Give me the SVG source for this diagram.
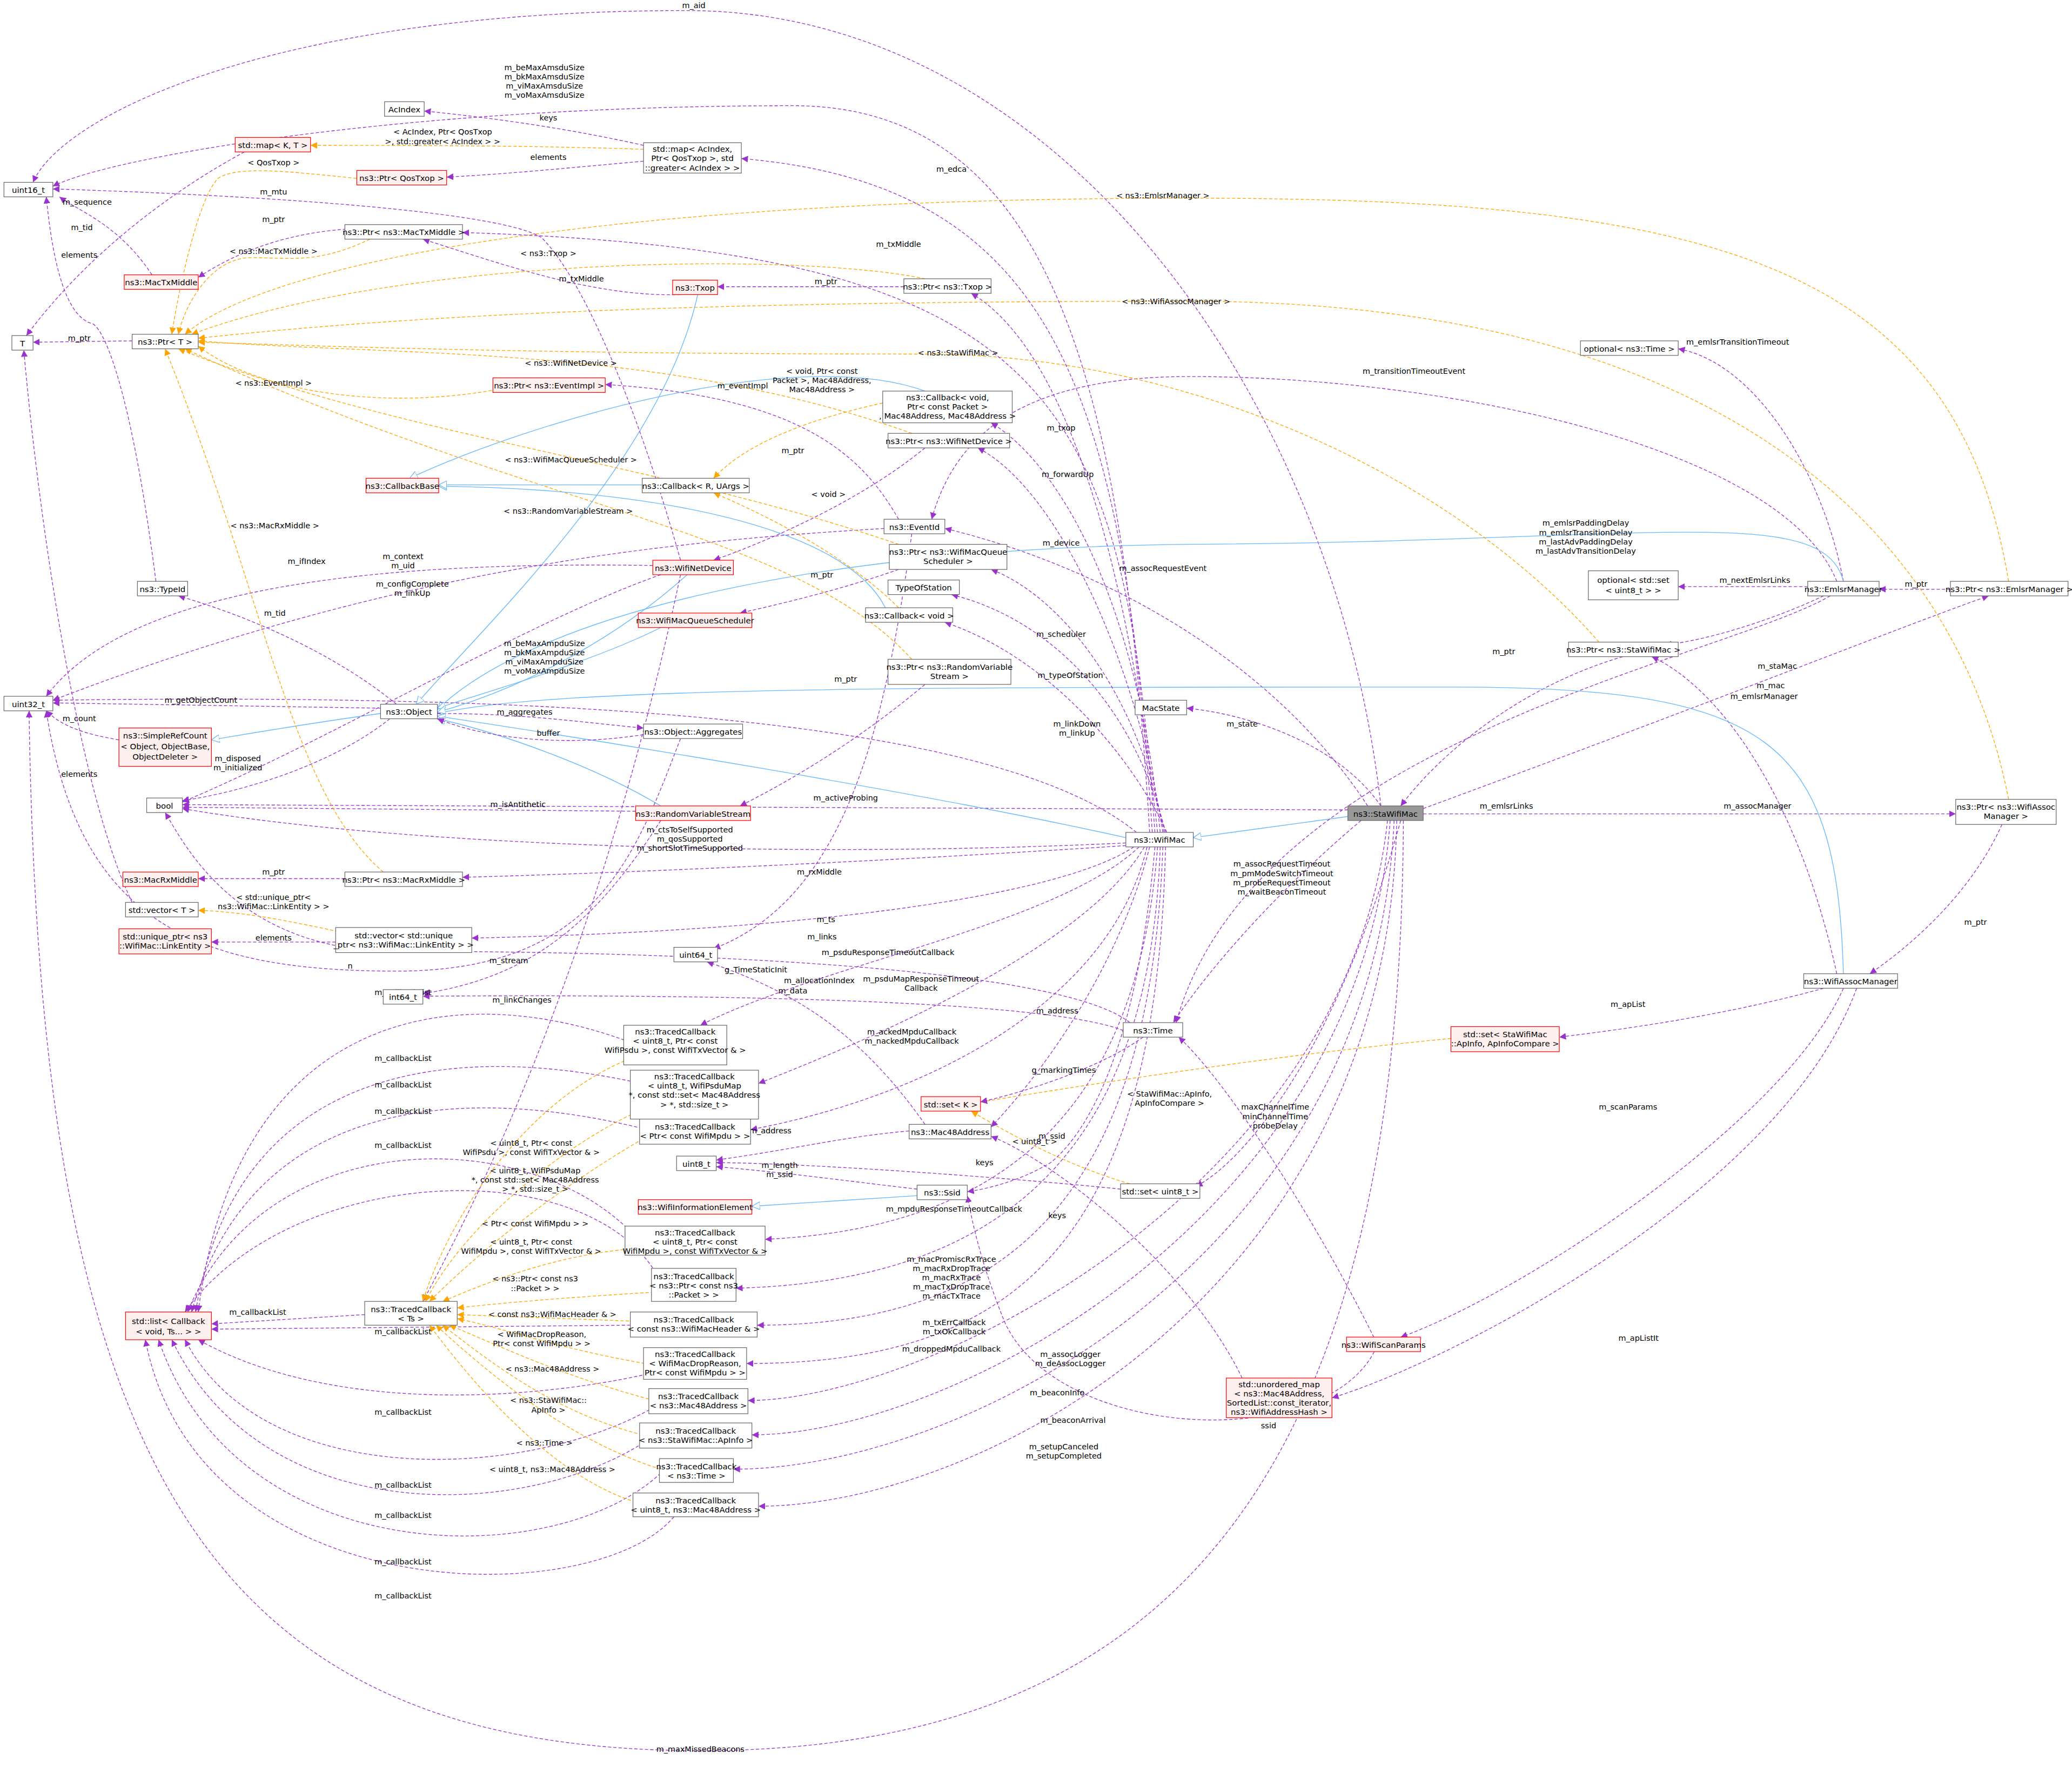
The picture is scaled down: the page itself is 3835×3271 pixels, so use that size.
<svg xmlns="http://www.w3.org/2000/svg" width="3835" height="3271" viewBox="0 0 3835 3271">
<style>
.n rect{fill:#fff;stroke:#666;stroke-width:0.5}
.r rect{fill:#fff0f0;stroke:#f00}
.g rect{fill:#999;stroke:#666}
text{font-family:"DejaVu Sans","Liberation Sans",sans-serif;font-size:6.1px;fill:#000}
.n text{text-anchor:middle}
.e path{fill:none;stroke-width:0.55}
.p{stroke:#9a32cd;stroke-dasharray:2.5,1.5}
.o{stroke:#ffa500;stroke-dasharray:2.5,1.5}
.b{stroke:#63b8ff}
.l text{text-anchor:middle;font-size:5.9px}
</style>
<defs>
<marker id="mp" markerUnits="userSpaceOnUse" markerWidth="6" markerHeight="6" refX="5" refY="2.5" orient="auto"><path d="M0,0L5,2.5L0,5z" fill="#9a32cd"/></marker>
<marker id="mo" markerUnits="userSpaceOnUse" markerWidth="6" markerHeight="6" refX="5" refY="2.5" orient="auto"><path d="M0,0L5,2.5L0,5z" fill="#ffa500"/></marker>
<marker id="mb" markerUnits="userSpaceOnUse" markerWidth="7" markerHeight="7" refX="6" refY="3" orient="auto"><path d="M0,0L6,3L0,6z" fill="#fff" stroke="#63b8ff" stroke-width="0.5"/></marker>
</defs>
<rect width="3835" height="3271" fill="#fff"/>
<g transform="scale(2.4458)">
<g id="edges" class="e">
<path class="p" marker-end="url(#mp)" d="M1045,610 C1010,300 800,8 520,8 C200,8 45,90 25,138"/>
<path class="b" marker-end="url(#mb)" d="M1020,618 L903,634"/>
<path class="p" marker-end="url(#mp)" d="M1035,610 C950,480 800,420 715,400"/>
<path class="p" marker-end="url(#mp)" d="M1045,610 C1010,560 940,540 898,536"/>
<path class="p" marker-end="url(#mp)" d="M1020,613 L138,609"/>
<path class="p" marker-end="url(#mp)" d="M1030,621 C960,680 910,740 888,774"/>
<path class="p" marker-end="url(#mp)" d="M1077,616 L1480,616"/>
<path class="p" marker-end="url(#mp)" d="M1077,612 C1300,530 1450,470 1505,451"/>
<path class="p" marker-end="url(#mp)" d="M1060,621 C1010,800 940,880 905,898"/>
<path class="p" marker-end="url(#mp)" d="M1050,621 C1020,900 700,1060 566,1060"/>
<path class="p" marker-end="url(#mp)" d="M1052,621 C1030,920 720,1086 569,1086"/>
<path class="p" marker-end="url(#mp)" d="M1055,621 C1040,950 730,1112 555,1112"/>
<path class="p" marker-end="url(#mp)" d="M1057,621 C1050,980 740,1140 574,1140"/>
<path class="p" marker-end="url(#mp)" d="M1062,621 C1060,1100 900,1325 530,1325 C150,1325 30,1100 22,538"/>
<path class="p" marker-end="url(#mp)" d="M1228,497 C1150,520 1090,570 1060,610"/>
<path class="p" marker-end="url(#mp)" d="M1380,451 C1340,470 1290,485 1260,488"/>
<path class="p" marker-end="url(#mp)" d="M1390,737 C1360,600 1300,520 1250,497"/>
<path class="p" marker-end="url(#mp)" d="M1385,451 C1300,500 950,560 890,774"/>
<path class="p" marker-end="url(#mp)" d="M1390,440 C1350,340 1100,285 900,285 C760,285 720,340 705,393"/>
<path class="p" marker-end="url(#mp)" d="M1395,440 C1380,360 1330,275 1270,264"/>
<path class="p" marker-end="url(#mp)" d="M1368,444 L1270,444"/>
<path class="p" marker-end="url(#mp)" d="M1476,446 L1422,446"/>
<path class="b" marker-end="url(#mb)" d="M1395,440 C1380,380 1250,410 900,412 C600,415 400,470 331,537"/>
<path class="b" marker-end="url(#mb)" d="M1395,737 C1390,560 1340,520 1100,520 C700,520 420,520 331,540"/>
<path class="p" marker-end="url(#mp)" d="M1515,624 C1490,680 1440,720 1415,737"/>
<path class="p" marker-end="url(#mp)" d="M1380,748 C1300,770 1220,780 1180,785"/>
<path class="p" marker-end="url(#mp)" d="M1395,748 C1350,850 1150,980 1060,1012"/>
<path class="p" marker-end="url(#mp)" d="M1405,748 C1350,900 1100,1030 1008,1058"/>
<path class="o" marker-end="url(#mo)" d="M1520,605 C1480,400 1300,228 900,228 C500,228 300,240 150,256"/>
<path class="o" marker-end="url(#mo)" d="M1520,440 C1480,200 1300,150 900,150 C450,150 200,200 140,253"/>
<path class="o" marker-end="url(#mo)" d="M1210,486 C1100,360 900,268 700,268 C400,268 250,262 150,259"/>
<path class="o" marker-end="url(#mo)" d="M1098,786 C950,800 800,825 742,834"/>
<path class="p" marker-end="url(#mp)" d="M1045,1023 C1000,930 930,820 892,785"/>
<path class="p" marker-end="url(#mp)" d="M1040,1023 C1000,1100 800,1090 760,1000 C740,950 735,920 732,905"/>
<path class="p" marker-end="url(#mp)" d="M848,900 C750,890 600,880 542,880"/>
<path class="o" marker-end="url(#mo)" d="M855,896 C800,880 750,850 735,841"/>
<path class="p" marker-end="url(#mp)" d="M940,1043 C900,960 800,880 750,860"/>
<path class="b" marker-end="url(#mb)" d="M852,634 C700,600 450,560 331,542"/>
<path class="p" marker-end="url(#mp)" d="M870,630 C850,300 800,80 600,80 C300,80 80,120 40,141"/>
<path class="p" marker-end="url(#mp)" d="M872,630 C850,300 800,140 561,120"/>
<path class="p" marker-end="url(#mp)" d="M874,630 C850,300 800,190 350,176"/>
<path class="p" marker-end="url(#mp)" d="M876,630 C850,400 800,260 735,222"/>
<path class="p" marker-end="url(#mp)" d="M878,630 C860,450 800,350 750,320"/>
<path class="p" marker-end="url(#mp)" d="M880,630 C860,500 800,370 740,339"/>
<path class="p" marker-end="url(#mp)" d="M881,630 C860,520 800,450 750,431"/>
<path class="p" marker-end="url(#mp)" d="M882,630 C860,540 800,470 720,450"/>
<path class="p" marker-end="url(#mp)" d="M883,630 C860,580 800,500 715,471"/>
<path class="p" marker-end="url(#mp)" d="M860,630 C750,540 400,525 40,530"/>
<path class="p" marker-end="url(#mp)" d="M852,638 C600,650 300,640 138,612"/>
<path class="p" marker-end="url(#mp)" d="M852,640 C700,650 500,660 350,664"/>
<path class="p" marker-end="url(#mp)" d="M858,641 C800,680 600,705 357,710"/>
<path class="p" marker-end="url(#mp)" d="M862,641 C800,700 620,730 530,776"/>
<path class="p" marker-end="url(#mp)" d="M866,641 C820,720 650,790 574,820"/>
<path class="p" marker-end="url(#mp)" d="M870,641 C850,720 800,800 750,853"/>
<path class="p" marker-end="url(#mp)" d="M868,641 C840,760 700,830 568,855"/>
<path class="p" marker-end="url(#mp)" d="M874,641 C860,800 820,860 795,880 C770,895 745,900 732,902"/>
<path class="p" marker-end="url(#mp)" d="M876,641 C860,850 750,930 579,938"/>
<path class="p" marker-end="url(#mp)" d="M878,641 C870,880 750,970 557,975"/>
<path class="p" marker-end="url(#mp)" d="M880,641 C870,920 750,1003 573,1003"/>
<path class="p" marker-end="url(#mp)" d="M882,641 C875,950 760,1032 565,1032"/>
<path class="p" marker-end="url(#mp)" d="M690,404 C670,550 640,680 540,718"/>
<path class="p" marker-end="url(#mp)" d="M680,393 C650,340 600,300 458,291"/>
<path class="p" marker-end="url(#mp)" d="M669,400 C500,410 300,430 40,530"/>
<path class="p" marker-end="url(#mp)" d="M850,780 C800,760 600,752 320,754"/>
<path class="p" marker-end="url(#mp)" d="M865,785 C830,810 770,828 742,834"/>
<path class="p" marker-end="url(#mp)" d="M855,774 C800,730 500,720 300,720 C180,720 140,640 125,615"/>
<path class="p" marker-end="url(#mp)" d="M688,856 C640,860 600,870 542,878"/>
<path class="p" marker-end="url(#mp)" d="M700,851 C650,780 600,750 535,728"/>
<path class="p" marker-end="url(#mp)" d="M694,900 C650,895 600,888 542,883"/>
<path class="b" marker-end="url(#mb)" d="M694,905 L569,913"/>
<path class="b" marker-end="url(#mb)" d="M500,610 C450,580 380,555 331,544"/>
<path class="p" marker-end="url(#mp)" d="M481,614 L138,611"/>
<path class="p" marker-end="url(#mp)" d="M500,621 C450,700 400,740 320,752"/>
<path class="p" marker-end="url(#mp)" d="M700,518 C650,560 600,590 560,610"/>
<path class="o" marker-end="url(#mo)" d="M690,499 C600,400 400,385 140,264"/>
<path class="p" marker-end="url(#mp)" d="M300,533 C260,500 200,470 135,451"/>
<path class="p" marker-end="url(#mp)" d="M288,536 L40,532"/>
<path class="p" marker-end="url(#mp)" d="M295,544 C250,580 180,600 138,606"/>
<path class="p" marker-end="url(#mp)" d="M331,540 C400,540 450,548 487,551"/>
<path class="p" marker-end="url(#mp)" d="M487,556 C430,565 370,560 331,544"/>
<path class="p" marker-end="url(#mp)" d="M515,559 C480,650 450,735 300,735 C150,735 60,700 35,538"/>
<path class="b" marker-end="url(#mb)" d="M288,540 C230,548 190,555 160,560"/>
<path class="p" marker-end="url(#mp)" d="M90,560 C60,555 45,548 35,538"/>
<path class="p" marker-end="url(#mp)" d="M118,440 C100,300 80,250 70,245 C50,240 40,200 35,149"/>
<path class="p" marker-end="url(#mp)" d="M115,208 C90,170 60,160 45,149"/>
<path class="p" marker-end="url(#mp)" d="M270,173 C220,175 180,190 150,210"/>
<path class="o" marker-end="url(#mo)" d="M280,181 C240,200 220,195 190,195 C160,195 140,230 135,253"/>
<path class="p" marker-end="url(#mp)" d="M515,223 C450,225 380,200 320,181"/>
<path class="b" marker-end="url(#mb)" d="M528,223 C500,350 360,480 315,533"/>
<path class="p" marker-end="url(#mp)" d="M684,217 L543,217"/>
<path class="o" marker-end="url(#mo)" d="M700,211 C600,190 300,195 145,253"/>
<path class="p" marker-end="url(#mp)" d="M487,110 C420,95 360,88 321,84"/>
<path class="o" marker-end="url(#mo)" d="M487,113 C400,110 300,110 235,110"/>
<path class="p" marker-end="url(#mp)" d="M487,122 C420,128 380,132 338,134"/>
<path class="o" marker-end="url(#mo)" d="M270,135 C220,130 180,125 165,135 C150,150 135,220 130,253"/>
<path class="p" marker-end="url(#mp)" d="M185,115 C120,150 60,200 20,254"/>
<path class="p" marker-end="url(#mp)" d="M100,258 L25,259"/>
<path class="o" marker-end="url(#mo)" d="M380,294 C300,310 200,300 150,262"/>
<path class="o" marker-end="url(#mo)" d="M690,328 C500,260 300,270 150,258"/>
<path class="p" marker-end="url(#mp)" d="M700,339 C650,380 580,410 540,424"/>
<path class="o" marker-end="url(#mo)" d="M668,305 C600,320 560,340 540,362"/>
<path class="b" marker-end="url(#mb)" d="M700,296 C600,260 400,320 310,362"/>
<path class="b" marker-end="url(#mb)" d="M670,460 C640,400 500,370 332,368"/>
<path class="o" marker-end="url(#mo)" d="M680,460 C640,420 580,390 540,373"/>
<path class="b" marker-end="url(#mb)" d="M486,367 L332,367"/>
<path class="o" marker-end="url(#mo)" d="M680,412 C500,350 300,330 135,264"/>
<path class="p" marker-end="url(#mp)" d="M680,431 C640,445 600,455 560,464"/>
<path class="b" marker-end="url(#mb)" d="M500,475 C450,500 380,520 331,536"/>
<path class="b" marker-end="url(#mb)" d="M520,435 C470,480 400,520 331,539"/>
<path class="p" marker-end="url(#mp)" d="M494,428 C300,425 100,440 35,527"/>
<path class="p" marker-end="url(#mp)" d="M500,435 C400,470 250,560 138,607"/>
<path class="p" marker-end="url(#mp)" d="M515,424 C480,300 440,210 410,180 C380,160 200,148 40,143"/>
<path class="p" marker-end="url(#mp)" d="M515,435 C480,600 420,800 320,985"/>
<path class="p" marker-end="url(#mp)" d="M261,665 L150,665"/>
<path class="o" marker-end="url(#mo)" d="M290,660 C220,600 200,450 125,264"/>
<path class="o" marker-end="url(#mo)" d="M260,706 C210,695 180,690 150,689"/>
<path class="p" marker-end="url(#mp)" d="M254,713 L160,713"/>
<path class="p" marker-end="url(#mp)" d="M100,683 C60,600 30,400 18,265"/>
<path class="p" marker-end="url(#mp)" d="M276,995 L160,1002"/>
<path class="p" marker-end="url(#mp)" d="M480,790 C350,740 180,760 150,993"/>
<path class="p" marker-end="url(#mp)" d="M485,820 C350,790 180,800 148,993"/>
<path class="p" marker-end="url(#mp)" d="M490,855 C350,820 190,830 145,993"/>
<path class="p" marker-end="url(#mp)" d="M480,935 C400,850 200,850 142,993"/>
<path class="p" marker-end="url(#mp)" d="M500,970 C450,870 220,880 140,993"/>
<path class="p" marker-end="url(#mp)" d="M477,1003 L160,1006"/>
<path class="p" marker-end="url(#mp)" d="M490,1040 C400,1060 250,1070 150,1014"/>
<path class="p" marker-end="url(#mp)" d="M495,1065 C400,1120 200,1130 140,1014"/>
<path class="p" marker-end="url(#mp)" d="M490,1090 C400,1150 200,1160 130,1014"/>
<path class="p" marker-end="url(#mp)" d="M500,1115 C420,1190 180,1190 120,1014"/>
<path class="p" marker-end="url(#mp)" d="M510,1148 C450,1220 150,1220 110,1014"/>
<path class="o" marker-end="url(#mo)" d="M480,800 C400,830 340,920 320,985"/>
<path class="o" marker-end="url(#mo)" d="M485,840 C420,870 350,930 322,985"/>
<path class="o" marker-end="url(#mo)" d="M490,860 C420,900 360,950 325,985"/>
<path class="o" marker-end="url(#mo)" d="M480,945 C420,950 370,970 335,985"/>
<path class="o" marker-end="url(#mo)" d="M495,978 C430,982 380,986 346,990"/>
<path class="o" marker-end="url(#mo)" d="M480,1000 L346,995"/>
<path class="o" marker-end="url(#mo)" d="M488,1032 C420,1020 380,1005 346,998"/>
<path class="o" marker-end="url(#mo)" d="M495,1060 C420,1040 370,1015 340,1003"/>
<path class="o" marker-end="url(#mo)" d="M490,1087 C420,1070 370,1030 335,1003"/>
<path class="o" marker-end="url(#mo)" d="M500,1112 C430,1090 370,1040 330,1003"/>
<path class="o" marker-end="url(#mo)" d="M485,1138 C420,1120 360,1050 325,1003"/>
</g>
<g class="l">
<text x="525" y="6">m_aid</text>
<text x="412" y="53">m_beMaxAmsduSize</text><text x="412" y="60">m_bkMaxAmsduSize</text><text x="412" y="67">m_viMaxAmsduSize</text><text x="412" y="74">m_voMaxAmsduSize</text>
<text x="880" y="432">m_assocRequestEvent</text>
<text x="940" y="550">m_state</text>
<text x="640" y="606">m_activeProbing</text>
<text x="970" y="656">m_assocRequestTimeout</text><text x="970" y="663">m_pmModeSwitchTimeout</text><text x="970" y="670">m_probeRequestTimeout</text><text x="970" y="677">m_waitBeaconTimeout</text>
<text x="1330" y="612">m_assocManager</text>
<text x="1335" y="529">m_emlsrManager</text>
<text x="1140" y="612">m_emlsrLinks</text>
<text x="810" y="1027">m_assocLogger</text><text x="810" y="1034">m_deAssocLogger</text>
<text x="800" y="1056">m_beaconInfo</text>
<text x="812" y="1077">m_beaconArrival</text>
<text x="805" y="1097">m_setupCanceled</text><text x="805" y="1104">m_setupCompleted</text>
<text x="530" y="1326">m_maxMissedBeacons</text>
<text x="1138" y="495">m_ptr</text>
<text x="1345" y="506">m_staMac</text>
<text x="1340" y="521">m_mac</text>
<text x="1200" y="398">m_emlsrPaddingDelay</text><text x="1200" y="405">m_emlsrTransitionDelay</text><text x="1200" y="412">m_lastAdvPaddingDelay</text><text x="1200" y="419">m_lastAdvTransitionDelay</text>
<text x="1070" y="283">m_transitionTimeoutEvent</text>
<text x="1315" y="261">m_emlsrTransitionTimeout</text>
<text x="1328" y="441">m_nextEmlsrLinks</text>
<text x="1450" y="444">m_ptr</text>
<text x="1495" y="700">m_ptr</text>
<text x="1232" y="762">m_apList</text>
<text x="1232" y="840">m_scanParams</text>
<text x="1240" y="1015">m_apListIt</text>
<text x="890" y="230">&lt; ns3::WifiAssocManager &gt;</text>
<text x="880" y="150">&lt; ns3::EmlsrManager &gt;</text>
<text x="725" y="269">&lt; ns3::StaWifiMac &gt;</text>
<text x="885" y="830">&lt; StaWifiMac::ApInfo,</text><text x="885" y="837">ApInfoCompare &gt;</text>
<text x="965" y="840">maxChannelTime</text><text x="965" y="847">minChannelTime</text><text x="965" y="854">probeDelay</text>
<text x="960" y="1081">ssid</text>
<text x="745" y="882">keys</text>
<text x="783" y="866">&lt; uint8_t &gt;</text>
<text x="800" y="922">keys</text>
<text x="720" y="130">m_edca</text>
<text x="680" y="187">m_txMiddle</text>
<text x="803" y="326">m_txop</text>
<text x="808" y="361">m_forwardUp</text>
<text x="803" y="413">m_device</text>
<text x="803" y="482">m_scheduler</text>
<text x="810" y="513">m_typeOfStation</text>
<text x="815" y="550">m_linkDown</text><text x="815" y="557">m_linkUp</text>
<text x="412" y="489">m_beMaxAmpduSize</text><text x="412" y="496">m_bkMaxAmpduSize</text><text x="412" y="503">m_viMaxAmpduSize</text><text x="412" y="510">m_voMaxAmpduSize</text>
<text x="522" y="630">m_ctsToSelfSupported</text><text x="522" y="637">m_qosSupported</text><text x="522" y="644">m_shortSlotTimeSupported</text>
<text x="620" y="662">m_rxMiddle</text>
<text x="622" y="711">m_links</text>
<text x="672" y="723">m_psduResponseTimeoutCallback</text>
<text x="697" y="743">m_psduMapResponseTimeout</text><text x="697" y="750">Callback</text>
<text x="800" y="767">m_address</text>
<text x="690" y="783">m_ackedMpduCallback</text><text x="690" y="790">m_nackedMpduCallback</text>
<text x="796" y="862">m_ssid</text>
<text x="722" y="917">m_mpduResponseTimeoutCallback</text>
<text x="720" y="955">m_macPromiscRxTrace</text><text x="720" y="962">m_macRxDropTrace</text><text x="720" y="969">m_macRxTrace</text><text x="720" y="976">m_macTxDropTrace</text><text x="720" y="983">m_macTxTrace</text>
<text x="722" y="1003">m_txErrCallback</text><text x="722" y="1010">m_txOkCallback</text>
<text x="720" y="1023">m_droppedMpduCallback</text>
<text x="625" y="698">m_ts</text>
<text x="562" y="294">m_eventImpl</text>
<text x="305" y="423">m_context</text><text x="305" y="430">m_uid</text>
<text x="600" y="752">m_data</text>
<text x="805" y="812">g_markingTimes</text>
<text x="572" y="736">g_TimeStaticInit</text>
<text x="583" y="858">m_address</text>
<text x="620" y="744">m_allocationIndex</text>
<text x="590" y="884">m_length</text><text x="590" y="891">m_ssid</text>
<text x="392" y="611">m_isAntithetic</text>
<text x="385" y="729">m_stream</text>
<text x="640" y="516">m_ptr</text>
<text x="430" y="389">&lt; ns3::RandomVariableStream &gt;</text>
<text x="208" y="466">m_tid</text>
<text x="152" y="532">m_getObjectCount</text>
<text x="180" y="576">m_disposed</text><text x="180" y="583">m_initialized</text>
<text x="397" y="541">m_aggregates</text>
<text x="415" y="557">buffer</text>
<text x="265" y="733">n</text>
<text x="60" y="546">m_count</text>
<text x="62" y="174">m_tid</text>
<text x="66" y="155">m_sequence</text>
<text x="207" y="168">m_ptr</text>
<text x="207" y="192">&lt; ns3::MacTxMiddle &gt;</text>
<text x="440" y="213">m_txMiddle</text>
<text x="625" y="215">m_ptr</text>
<text x="415" y="194">&lt; ns3::Txop &gt;</text>
<text x="415" y="91">keys</text>
<text x="335" y="102">&lt; AcIndex, Ptr&lt; QosTxop</text><text x="335" y="109">&gt;, std::greater&lt; AcIndex &gt; &gt;</text>
<text x="415" y="121">elements</text>
<text x="207" y="125">&lt; QosTxop &gt;</text>
<text x="207" y="147">m_mtu</text>
<text x="60" y="195">elements</text>
<text x="60" y="258">m_ptr</text>
<text x="207" y="292">&lt; ns3::EventImpl &gt;</text>
<text x="432" y="277">&lt; ns3::WifiNetDevice &gt;</text>
<text x="600" y="343">m_ptr</text>
<text x="622" y="283">&lt; void, Ptr&lt; const</text><text x="622" y="290">Packet &gt;, Mac48Address,</text><text x="622" y="297">Mac48Address &gt;</text>
<text x="627" y="376">&lt; void &gt;</text>
<text x="432" y="350">&lt; ns3::WifiMacQueueScheduler &gt;</text>
<text x="622" y="437">m_ptr</text>
<text x="232" y="427">m_ifIndex</text>
<text x="312" y="444">m_configComplete</text><text x="312" y="451">m_linkUp</text>
<text x="395" y="759">m_linkChanges</text>
<text x="207" y="662">m_ptr</text>
<text x="208" y="400">&lt; ns3::MacRxMiddle &gt;</text>
<text x="207" y="681">&lt; std::unique_ptr&lt;</text><text x="207" y="688">ns3::WifiMac::LinkEntity &gt; &gt;</text>
<text x="207" y="712">elements</text>
<text x="60" y="588">elements</text>
<text x="195" y="995">m_callbackList</text>
<text x="305" y="753">m_callbackList</text>
<text x="305" y="803">m_callbackList</text>
<text x="305" y="823">m_callbackList</text>
<text x="305" y="843">m_callbackList</text>
<text x="305" y="869">m_callbackList</text>
<text x="305" y="1010">m_callbackList</text>
<text x="305" y="1071">m_callbackList</text>
<text x="305" y="1126">m_callbackList</text>
<text x="305" y="1149">m_callbackList</text>
<text x="305" y="1184">m_callbackList</text>
<text x="305" y="1210">m_callbackList</text>
<text x="402" y="867">&lt; uint8_t, Ptr&lt; const</text><text x="402" y="874">WifiPsdu &gt;, const WifiTxVector &amp; &gt;</text>
<text x="405" y="888">&lt; uint8_t, WifiPsduMap</text><text x="405" y="895">*, const std::set&lt; Mac48Address</text><text x="405" y="902">&gt; *, std::size_t &gt;</text>
<text x="405" y="928">&lt; Ptr&lt; const WifiMpdu &gt; &gt;</text>
<text x="402" y="942">&lt; uint8_t, Ptr&lt; const</text><text x="402" y="949">WifiMpdu &gt;, const WifiTxVector &amp; &gt;</text>
<text x="405" y="970">&lt; ns3::Ptr&lt; const ns3</text><text x="405" y="977">::Packet &gt; &gt;</text>
<text x="418" y="997">&lt; const ns3::WifiMacHeader &amp; &gt;</text>
<text x="410" y="1012">&lt; WifiMacDropReason,</text><text x="410" y="1019">Ptr&lt; const WifiMpdu &gt; &gt;</text>
<text x="418" y="1038">&lt; ns3::Mac48Address &gt;</text>
<text x="415" y="1062">&lt; ns3::StaWifiMac::</text><text x="415" y="1069">ApInfo &gt;</text>
<text x="412" y="1094">&lt; ns3::Time &gt;</text>
<text x="418" y="1114">&lt; uint8_t, ns3::Mac48Address &gt;</text>
</g>
<g id="nStaWifiMac" class="n g"><rect x="1020" y="610" width="57" height="11"/><text x="1048.5" y="618">ns3::StaWifiMac</text></g>
<g id="nWifiMac" class="n"><rect x="852" y="630" width="51" height="11"/><text x="877.5" y="638">ns3::WifiMac</text></g>
<g id="nuint16" class="n"><rect x="3" y="138" width="37" height="11"/><text x="21.5" y="146">uint16_t</text></g>
<g id="nAcIndex" class="n"><rect x="291" y="77" width="30" height="11"/><text x="306" y="85">AcIndex</text></g>
<g id="nMapKT" class="n r"><rect x="178" y="104" width="57" height="11"/><text x="206.5" y="112">std::map&lt; K, T &gt;</text></g>
<g id="nPtrQosTxop" class="n r"><rect x="270" y="129" width="68" height="11"/><text x="304" y="137">ns3::Ptr&lt; QosTxop &gt;</text></g>
<g id="nMapAc" class="n"><rect x="487" y="108" width="74" height="23"/><text x="524" y="115">std::map&lt; AcIndex,</text><text x="524" y="122">Ptr&lt; QosTxop &gt;, std</text><text x="524" y="129">::greater&lt; AcIndex &gt; &gt;</text></g>
<g id="nMacTxMiddle" class="n r"><rect x="94" y="208" width="56" height="11"/><text x="122" y="216">ns3::MacTxMiddle</text></g>
<g id="nPtrMacTxMiddle" class="n"><rect x="261" y="170" width="89" height="11"/><text x="305.5" y="178">ns3::Ptr&lt; ns3::MacTxMiddle &gt;</text></g>
<g id="nTxop" class="n r"><rect x="509" y="212" width="34" height="11"/><text x="526" y="220">ns3::Txop</text></g>
<g id="nPtrTxop" class="n"><rect x="684" y="211" width="66" height="11"/><text x="717" y="219">ns3::Ptr&lt; ns3::Txop &gt;</text></g>
<g id="nT" class="n"><rect x="9" y="254" width="16" height="11"/><text x="17" y="262">T</text></g>
<g id="nPtrT" class="n"><rect x="100" y="253" width="50" height="11"/><text x="125" y="261">ns3::Ptr&lt; T &gt;</text></g>
<g id="nPtrEventImpl" class="n r"><rect x="373" y="286" width="85" height="11"/><text x="415.5" y="294">ns3::Ptr&lt; ns3::EventImpl &gt;</text></g>
<g id="nOptTime" class="n"><rect x="1196" y="258" width="74" height="11"/><text x="1233" y="266">optional&lt; ns3::Time &gt;</text></g>
<g id="nCallbackPkt" class="n"><rect x="668" y="296" width="98" height="24"/><text x="717" y="303">ns3::Callback&lt; void,</text><text x="717" y="310">Ptr&lt; const Packet &gt;</text><text x="717" y="317">, Mac48Address, Mac48Address &gt;</text></g>
<g id="nPtrNetDev" class="n"><rect x="672" y="328" width="92" height="11"/><text x="718" y="336">ns3::Ptr&lt; ns3::WifiNetDevice &gt;</text></g>
<g id="nCallbackBase" class="n r"><rect x="277" y="362" width="55" height="11"/><text x="304.5" y="370">ns3::CallbackBase</text></g>
<g id="nCallbackR" class="n"><rect x="486" y="362" width="81" height="11"/><text x="526.5" y="370">ns3::Callback&lt; R, UArgs &gt;</text></g>
<g id="nEventId" class="n"><rect x="669" y="393" width="46" height="11"/><text x="692" y="401">ns3::EventId</text></g>
<g id="nPtrSched" class="n"><rect x="673" y="412" width="89" height="19"/><text x="717.5" y="420">ns3::Ptr&lt; ns3::WifiMacQueue</text><text x="717.5" y="427">Scheduler &gt;</text></g>
<g id="nWifiNetDevice" class="n r"><rect x="494" y="424" width="61" height="11"/><text x="524.5" y="432">ns3::WifiNetDevice</text></g>
<g id="nTypeId" class="n"><rect x="104" y="440" width="38" height="11"/><text x="123" y="448">ns3::TypeId</text></g>
<g id="nTypeOfStation" class="n"><rect x="672" y="439" width="54" height="11"/><text x="699" y="447">TypeOfStation</text></g>
<g id="nSched" class="n r"><rect x="483" y="464" width="86" height="11"/><text x="526" y="472">ns3::WifiMacQueueScheduler</text></g>
<g id="nCallbackVoid" class="n"><rect x="655" y="460" width="66" height="11"/><text x="688" y="468">ns3::Callback&lt; void &gt;</text></g>
<g id="nPtrRVS" class="n"><rect x="672" y="499" width="93" height="19"/><text x="718.5" y="507">ns3::Ptr&lt; ns3::RandomVariable</text><text x="718.5" y="514">Stream &gt;</text></g>
<g id="nOptSet" class="n"><rect x="1202" y="432" width="68" height="22"/><text x="1236" y="441">optional&lt; std::set</text><text x="1236" y="449">&lt; uint8_t &gt; &gt;</text></g>
<g id="nEmlsr" class="n"><rect x="1368" y="440" width="54" height="11"/><text x="1395" y="448">ns3::EmlsrManager</text></g>
<g id="nPtrSta" class="n"><rect x="1187" y="486" width="83" height="11"/><text x="1228.5" y="494">ns3::Ptr&lt; ns3::StaWifiMac &gt;</text></g>
<g id="nPtrEmlsr" class="n"><rect x="1476" y="440" width="89" height="11"/><text x="1520.5" y="448">ns3::Ptr&lt; ns3::EmlsrManager &gt;</text></g>
<g id="nuint32" class="n"><rect x="3" y="527" width="37" height="11"/><text x="21.5" y="535">uint32_t</text></g>
<g id="nObject" class="n"><rect x="288" y="533" width="43" height="11"/><text x="309.5" y="541">ns3::Object</text></g>
<g id="nAggr" class="n"><rect x="487" y="548" width="75" height="11"/><text x="524.5" y="556">ns3::Object::Aggregates</text></g>
<g id="nSRC" class="n r"><rect x="90" y="551" width="70" height="29"/><text x="125" y="559">ns3::SimpleRefCount</text><text x="125" y="567">&lt; Object, ObjectBase,</text><text x="125" y="575">ObjectDeleter &gt;</text></g>
<g id="nMacState" class="n"><rect x="859" y="530" width="39" height="11"/><text x="878.5" y="538">MacState</text></g>
<g id="nbool" class="n"><rect x="111" y="604" width="27" height="11"/><text x="124.5" y="612">bool</text></g>
<g id="nRVS" class="n r"><rect x="481" y="610" width="87" height="11"/><text x="524.5" y="618">ns3::RandomVariableStream</text></g>
<g id="nPtrAssoc" class="n"><rect x="1480" y="605" width="76" height="19"/><text x="1518" y="613">ns3::Ptr&lt; ns3::WifiAssoc</text><text x="1518" y="620">Manager &gt;</text></g>
<g id="nMacRxMiddle" class="n r"><rect x="93" y="660" width="57" height="11"/><text x="121.5" y="668">ns3::MacRxMiddle</text></g>
<g id="nPtrMacRx" class="n"><rect x="261" y="660" width="89" height="11"/><text x="305.5" y="668">ns3::Ptr&lt; ns3::MacRxMiddle &gt;</text></g>
<g id="nVecT" class="n"><rect x="95" y="683" width="55" height="11"/><text x="122.5" y="691">std::vector&lt; T &gt;</text></g>
<g id="nUnique" class="n r"><rect x="90" y="703" width="70" height="19"/><text x="125" y="711">std::unique_ptr&lt; ns3</text><text x="125" y="718">::WifiMac::LinkEntity &gt;</text></g>
<g id="nVecU" class="n"><rect x="254" y="702" width="103" height="19"/><text x="305.5" y="710">std::vector&lt; std::unique</text><text x="305.5" y="717">_ptr&lt; ns3::WifiMac::LinkEntity &gt; &gt;</text></g>
<g id="nuint64" class="n"><rect x="510" y="717" width="33" height="11"/><text x="526.5" y="725">uint64_t</text></g>
<g id="nint64" class="n"><rect x="290" y="749" width="30" height="11"/><text x="305" y="757">int64_t</text></g>
<g id="nTime" class="n"><rect x="850" y="774" width="45" height="11"/><text x="872.5" y="782">ns3::Time</text></g>
<g id="nAssoc" class="n"><rect x="1365" y="737" width="71" height="11"/><text x="1400.5" y="745">ns3::WifiAssocManager</text></g>
<g id="nSetApInfo" class="n r"><rect x="1098" y="777" width="82" height="19"/><text x="1139" y="785">std::set&lt; StaWifiMac</text><text x="1139" y="792">::ApInfo, ApInfoCompare &gt;</text></g>
<g id="nTC1" class="n"><rect x="472" y="776" width="78" height="30"/><text x="511" y="783">ns3::TracedCallback</text><text x="511" y="790">&lt; uint8_t, Ptr&lt; const</text><text x="511" y="797">WifiPsdu &gt;, const WifiTxVector &amp; &gt;</text></g>
<g id="nTC2" class="n"><rect x="477" y="810" width="97" height="37"/><text x="525.5" y="817">ns3::TracedCallback</text><text x="525.5" y="824">&lt; uint8_t, WifiPsduMap</text><text x="525.5" y="831">*, const std::set&lt; Mac48Address</text><text x="525.5" y="838">&gt; *, std::size_t &gt;</text></g>
<g id="nSetK" class="n r"><rect x="697" y="830" width="45" height="11"/><text x="719.5" y="838">std::set&lt; K &gt;</text></g>
<g id="nTC3" class="n"><rect x="484" y="847" width="84" height="19"/><text x="526" y="855">ns3::TracedCallback</text><text x="526" y="862">&lt; Ptr&lt; const WifiMpdu &gt; &gt;</text></g>
<g id="nMac48" class="n"><rect x="688" y="851" width="62" height="11"/><text x="719" y="859">ns3::Mac48Address</text></g>
<g id="nuint8" class="n"><rect x="512" y="875" width="30" height="11"/><text x="527" y="883">uint8_t</text></g>
<g id="nSetU8" class="n"><rect x="848" y="896" width="60" height="11"/><text x="878" y="904">std::set&lt; uint8_t &gt;</text></g>
<g id="nSsid" class="n"><rect x="694" y="897" width="38" height="11"/><text x="713" y="905">ns3::Ssid</text></g>
<g id="nWIE" class="n r"><rect x="483" y="908" width="86" height="11"/><text x="526" y="916">ns3::WifiInformationElement</text></g>
<g id="nTC4" class="n"><rect x="473" y="928" width="106" height="22"/><text x="526" y="935">ns3::TracedCallback</text><text x="526" y="942">&lt; uint8_t, Ptr&lt; const</text><text x="526" y="949">WifiMpdu &gt;, const WifiTxVector &amp; &gt;</text></g>
<g id="nTC5" class="n"><rect x="493" y="960" width="64" height="25"/><text x="525" y="968">ns3::TracedCallback</text><text x="525" y="975">&lt; ns3::Ptr&lt; const ns3</text><text x="525" y="982">::Packet &gt; &gt;</text></g>
<g id="nTCTs" class="n"><rect x="276" y="985" width="70" height="18"/><text x="311" y="993">ns3::TracedCallback</text><text x="311" y="1000">&lt; Ts &gt;</text></g>
<g id="nList" class="n r"><rect x="95" y="993" width="65" height="21"/><text x="127.5" y="1002">std::list&lt; Callback</text><text x="127.5" y="1010">&lt; void, Ts... &gt; &gt;</text></g>
<g id="nTC6" class="n"><rect x="477" y="993" width="96" height="19"/><text x="525" y="1001">ns3::TracedCallback</text><text x="525" y="1008">&lt; const ns3::WifiMacHeader &amp; &gt;</text></g>
<g id="nScan" class="n r"><rect x="1019" y="1012" width="56" height="11"/><text x="1047" y="1020">ns3::WifiScanParams</text></g>
<g id="nTC7" class="n"><rect x="487" y="1020" width="78" height="24"/><text x="526" y="1027">ns3::TracedCallback</text><text x="526" y="1034">&lt; WifiMacDropReason,</text><text x="526" y="1041">Ptr&lt; const WifiMpdu &gt; &gt;</text></g>
<g id="nUMap" class="n r"><rect x="928" y="1043" width="80" height="30"/><text x="968" y="1050">std::unordered_map</text><text x="968" y="1057">&lt; ns3::Mac48Address,</text><text x="968" y="1064">SortedList::const_iterator,</text><text x="968" y="1071">ns3::WifiAddressHash &gt;</text></g>
<g id="nTC8" class="n"><rect x="491" y="1051" width="75" height="19"/><text x="528.5" y="1059">ns3::TracedCallback</text><text x="528.5" y="1066">&lt; ns3::Mac48Address &gt;</text></g>
<g id="nTC9" class="n"><rect x="484" y="1077" width="85" height="19"/><text x="526.5" y="1085">ns3::TracedCallback</text><text x="526.5" y="1092">&lt; ns3::StaWifiMac::ApInfo &gt;</text></g>
<g id="nTC10" class="n"><rect x="499" y="1104" width="56" height="18"/><text x="527" y="1112">ns3::TracedCallback</text><text x="527" y="1119">&lt; ns3::Time &gt;</text></g>
<g id="nTC11" class="n"><rect x="479" y="1130" width="95" height="18"/><text x="526.5" y="1138">ns3::TracedCallback</text><text x="526.5" y="1145">&lt; uint8_t, ns3::Mac48Address &gt;</text></g>
</g>
</svg>
